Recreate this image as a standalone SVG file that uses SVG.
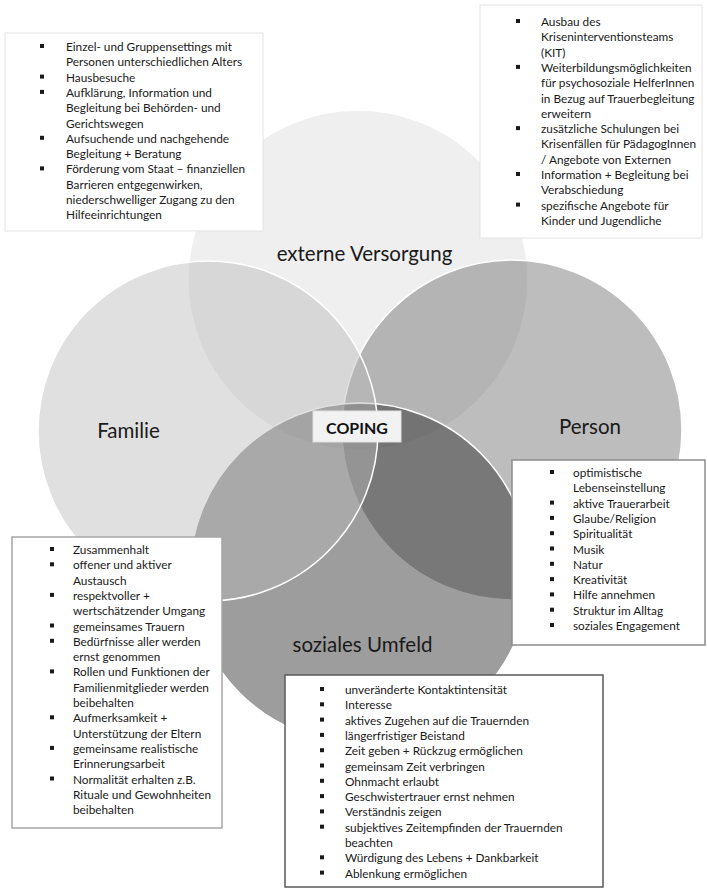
<svg xmlns="http://www.w3.org/2000/svg" width="707" height="889" viewBox="0 0 707 889">
<style>
.c{stroke:#fff;stroke-width:1.5;fill-opacity:.44}
.lbl{font-family:Lato,"Liberation Sans",sans-serif;font-size:20.5px;fill:#1a1a1a;text-anchor:middle}
.t{font-family:Lato,"Liberation Sans",sans-serif;font-size:11.8px;fill:#1a1a1a}
.bx{fill:#fff}
.bl{fill:#1a1a1a}
</style>
<rect width="707" height="889" fill="#fff"/>
<g id="circles">
<circle id="c-extern" class="c" cx="358" cy="280" r="170" fill="#dadada"/>
<circle id="c-person" class="c" cx="512" cy="430" r="170" fill="#696969"/>
<circle id="c-sozial" class="c" cx="360" cy="573" r="170" fill="#1f1f1f"/>
<circle id="c-familie" class="c" cx="208" cy="431" r="170" fill="#b9b9b9"/>
</g>
<g id="labels">
<text class="lbl" x="364.5" y="261">externe Versorgung</text>
<text class="lbl" x="128.5" y="438">Familie</text>
<text class="lbl" x="590" y="434">Person</text>
<text class="lbl" x="362.5" y="652">soziales Umfeld</text>
</g>
<g id="coping">
<rect x="313" y="411" width="88" height="31" fill="#f2f2f2" stroke="#e0e0e0" stroke-width="1"/>
<text x="357" y="434" font-family="Lato,'Liberation Sans',sans-serif" font-size="16" font-weight="bold" fill="#111" text-anchor="middle">COPING</text>
</g>
<g id="box-extern-left">
<rect class="bx" x="5" y="33" width="258" height="198" stroke="#e3e3e3" stroke-width="1"/>
<rect class="bl" x="40" y="44" width="4" height="4"/><rect class="bl" x="40" y="74.6" width="4" height="4"/><rect class="bl" x="40" y="89.9" width="4" height="4"/><rect class="bl" x="40" y="135.8" width="4" height="4"/><rect class="bl" x="40" y="166.4" width="4" height="4"/>
<text class="t" x="66" y="51"><tspan x="66">Einzel- und Gruppensettings mit</tspan><tspan x="66" dy="15.3">Personen unterschiedlichen Alters</tspan><tspan x="66" dy="15.3">Hausbesuche</tspan><tspan x="66" dy="15.3">Aufklärung, Information und</tspan><tspan x="66" dy="15.3">Begleitung bei Behörden- und</tspan><tspan x="66" dy="15.3">Gerichtswegen</tspan><tspan x="66" dy="15.3">Aufsuchende und nachgehende</tspan><tspan x="66" dy="15.3">Begleitung + Beratung</tspan><tspan x="66" dy="15.3">Förderung vom Staat – finanziellen</tspan><tspan x="66" dy="15.3">Barrieren entgegenwirken,</tspan><tspan x="66" dy="15.3">niederschwelliger Zugang zu den</tspan><tspan x="66" dy="15.3">Hilfeeinrichtungen</tspan></text>
</g>
<g id="box-extern-right">
<rect class="bx" x="480" y="5" width="222" height="233" stroke="#e3e3e3" stroke-width="1"/>
<rect class="bl" x="516" y="19" width="4" height="4"/><rect class="bl" x="516" y="64.9" width="4" height="4"/><rect class="bl" x="516" y="126.1" width="4" height="4"/><rect class="bl" x="516" y="172" width="4" height="4"/><rect class="bl" x="516" y="202.6" width="4" height="4"/>
<text class="t" x="541" y="26"><tspan x="541">Ausbau des</tspan><tspan x="541" dy="15.3">Kriseninterventionsteams</tspan><tspan x="541" dy="15.3">(KIT)</tspan><tspan x="541" dy="15.3">Weiterbildungsmöglichkeiten</tspan><tspan x="541" dy="15.3">für psychosoziale HelferInnen</tspan><tspan x="541" dy="15.3">in Bezug auf Trauerbegleitung</tspan><tspan x="541" dy="15.3">erweitern</tspan><tspan x="541" dy="15.3">zusätzliche Schulungen bei</tspan><tspan x="541" dy="15.3">Krisenfällen für PädagogInnen</tspan><tspan x="541" dy="15.3">/ Angebote von Externen</tspan><tspan x="541" dy="15.3">Information + Begleitung bei</tspan><tspan x="541" dy="15.3">Verabschiedung</tspan><tspan x="541" dy="15.3">spezifische Angebote für</tspan><tspan x="541" dy="15.3">Kinder und Jugendliche</tspan></text>
</g>
<g id="box-familie">
<rect class="bx" x="12" y="537" width="210" height="291" stroke="#a6a6a6" stroke-width="1.5"/>
<rect class="bl" x="50" y="547" width="4" height="4"/><rect class="bl" x="50" y="562.3" width="4" height="4"/><rect class="bl" x="50" y="592.9" width="4" height="4"/><rect class="bl" x="50" y="623.5" width="4" height="4"/><rect class="bl" x="50" y="638.8" width="4" height="4"/><rect class="bl" x="50" y="669.4" width="4" height="4"/><rect class="bl" x="50" y="715.3" width="4" height="4"/><rect class="bl" x="50" y="745.9" width="4" height="4"/><rect class="bl" x="50" y="776.5" width="4" height="4"/>
<text class="t" x="73" y="554"><tspan x="73">Zusammenhalt</tspan><tspan x="73" dy="15.3">offener und aktiver</tspan><tspan x="73" dy="15.3">Austausch</tspan><tspan x="73" dy="15.3">respektvoller +</tspan><tspan x="73" dy="15.3">wertschätzender Umgang</tspan><tspan x="73" dy="15.3">gemeinsames Trauern</tspan><tspan x="73" dy="15.3">Bedürfnisse aller werden</tspan><tspan x="73" dy="15.3">ernst genommen</tspan><tspan x="73" dy="15.3">Rollen und Funktionen der</tspan><tspan x="73" dy="15.3">Familienmitglieder werden</tspan><tspan x="73" dy="15.3">beibehalten</tspan><tspan x="73" dy="15.3">Aufmerksamkeit +</tspan><tspan x="73" dy="15.3">Unterstützung der Eltern</tspan><tspan x="73" dy="15.3">gemeinsame realistische</tspan><tspan x="73" dy="15.3">Erinnerungsarbeit</tspan><tspan x="73" dy="15.3">Normalität erhalten z.B.</tspan><tspan x="73" dy="15.3">Rituale und Gewohnheiten</tspan><tspan x="73" dy="15.3">beibehalten</tspan></text>
</g>
<g id="box-person">
<rect class="bx" x="512" y="460" width="193" height="185" stroke="#8c8c8c" stroke-width="1.5"/>
<rect class="bl" x="550" y="470" width="4" height="4"/><rect class="bl" x="550" y="500.6" width="4" height="4"/><rect class="bl" x="550" y="515.9" width="4" height="4"/><rect class="bl" x="550" y="531.2" width="4" height="4"/><rect class="bl" x="550" y="546.5" width="4" height="4"/><rect class="bl" x="550" y="561.8" width="4" height="4"/><rect class="bl" x="550" y="577.1" width="4" height="4"/><rect class="bl" x="550" y="592.4" width="4" height="4"/><rect class="bl" x="550" y="607.7" width="4" height="4"/><rect class="bl" x="550" y="623" width="4" height="4"/>
<text class="t" x="573" y="477"><tspan x="573">optimistische</tspan><tspan x="573" dy="15.3">Lebenseinstellung</tspan><tspan x="573" dy="15.3">aktive Trauerarbeit</tspan><tspan x="573" dy="15.3">Glaube/Religion</tspan><tspan x="573" dy="15.3">Spiritualität</tspan><tspan x="573" dy="15.3">Musik</tspan><tspan x="573" dy="15.3">Natur</tspan><tspan x="573" dy="15.3">Kreativität</tspan><tspan x="573" dy="15.3">Hilfe annehmen</tspan><tspan x="573" dy="15.3">Struktur im Alltag</tspan><tspan x="573" dy="15.3">soziales Engagement</tspan></text>
</g>
<g id="box-sozial">
<rect class="bx" x="285" y="675" width="318" height="212" stroke="#595959" stroke-width="1.5"/>
<rect class="bl" x="320" y="687" width="4" height="4"/><rect class="bl" x="320" y="702.3" width="4" height="4"/><rect class="bl" x="320" y="717.6" width="4" height="4"/><rect class="bl" x="320" y="732.9" width="4" height="4"/><rect class="bl" x="320" y="748.2" width="4" height="4"/><rect class="bl" x="320" y="763.5" width="4" height="4"/><rect class="bl" x="320" y="778.8" width="4" height="4"/><rect class="bl" x="320" y="794.1" width="4" height="4"/><rect class="bl" x="320" y="809.4" width="4" height="4"/><rect class="bl" x="320" y="824.7" width="4" height="4"/><rect class="bl" x="320" y="855.3" width="4" height="4"/><rect class="bl" x="320" y="870.6" width="4" height="4"/>
<text class="t" x="345" y="694"><tspan x="345">unveränderte Kontaktintensität</tspan><tspan x="345" dy="15.3">Interesse</tspan><tspan x="345" dy="15.3">aktives Zugehen auf die Trauernden</tspan><tspan x="345" dy="15.3">längerfristiger Beistand</tspan><tspan x="345" dy="15.3">Zeit geben + Rückzug ermöglichen</tspan><tspan x="345" dy="15.3">gemeinsam Zeit verbringen</tspan><tspan x="345" dy="15.3">Ohnmacht erlaubt</tspan><tspan x="345" dy="15.3">Geschwistertrauer ernst nehmen</tspan><tspan x="345" dy="15.3">Verständnis zeigen</tspan><tspan x="345" dy="15.3">subjektives Zeitempfinden der Trauernden</tspan><tspan x="345" dy="15.3">beachten</tspan><tspan x="345" dy="15.3">Würdigung des Lebens + Dankbarkeit</tspan><tspan x="345" dy="15.3">Ablenkung ermöglichen</tspan></text>
</g>
</svg>
